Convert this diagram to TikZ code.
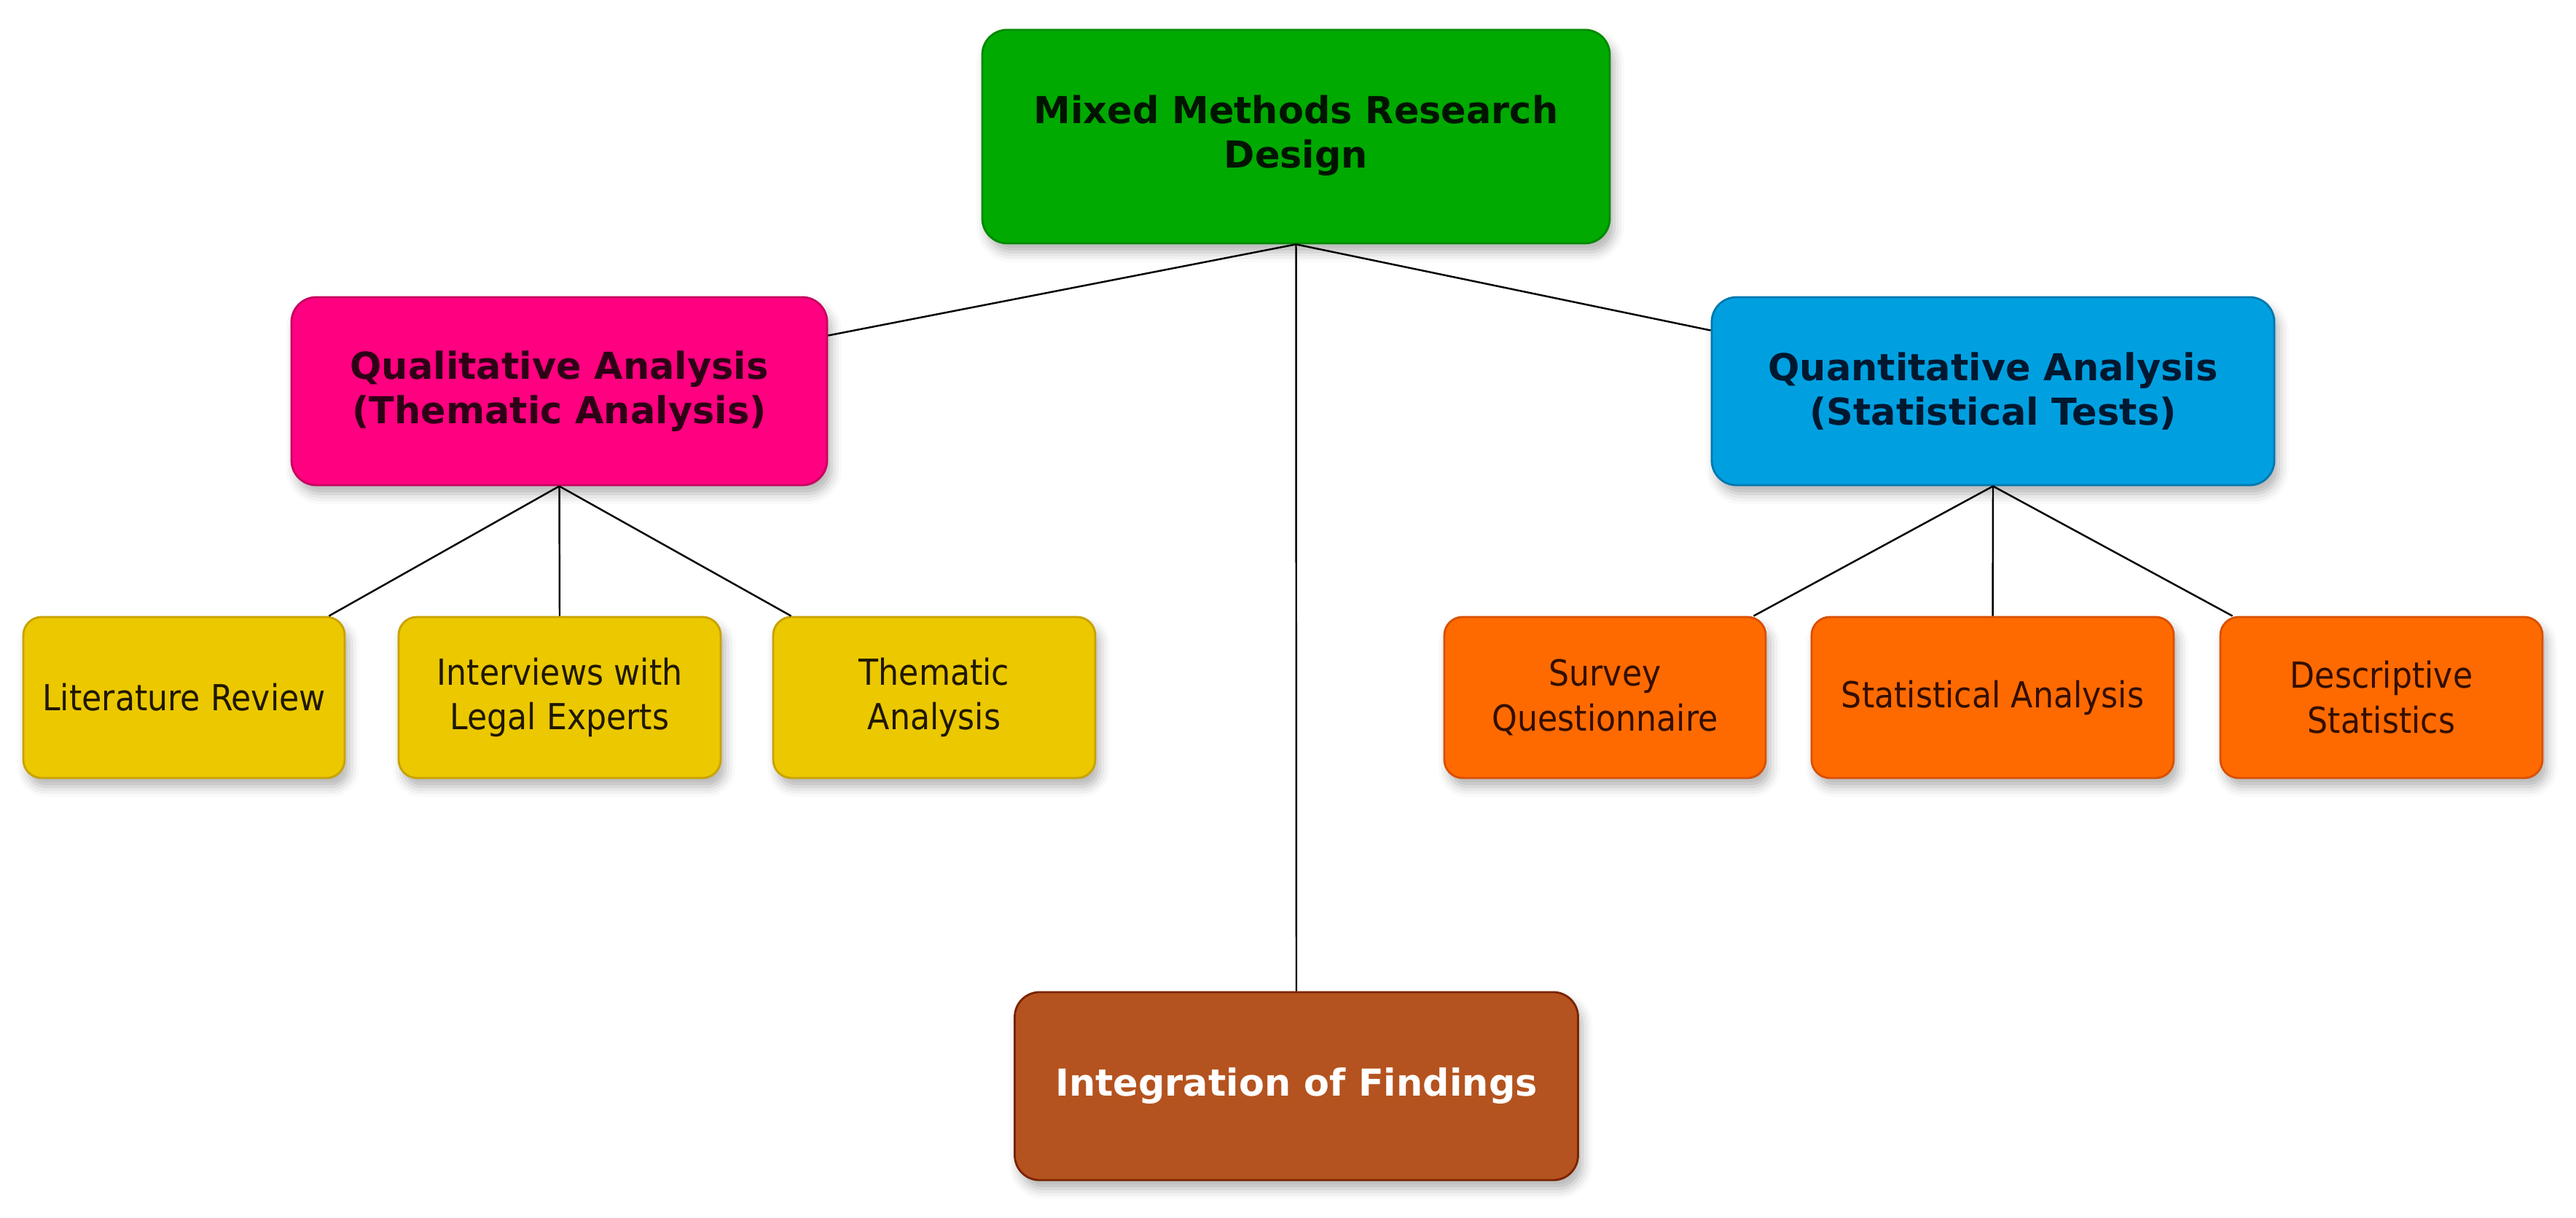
\documentclass[tikz,border=0pt]{standalone}
\usepackage{fontspec}
\setmainfont{DejaVu Sans}
\newfontfamily\condfont{DejaVu Sans Condensed}
\usetikzlibrary{shadows.blur}
\definecolor{gfill}{HTML}{00AA00}\definecolor{gdraw}{HTML}{008A00}
\definecolor{pfill}{HTML}{FF0080}\definecolor{pdraw}{HTML}{C8005F}
\definecolor{bfill}{HTML}{00A0E0}\definecolor{bdraw}{HTML}{0078B0}
\definecolor{yfill}{HTML}{EBC800}\definecolor{ydraw}{HTML}{C8A200}
\definecolor{ofill}{HTML}{FF6A00}\definecolor{odraw}{HTML}{D95000}
\definecolor{brfill}{HTML}{B4531F}\definecolor{brdraw}{HTML}{7A2300}
\definecolor{ptext}{HTML}{2E0016}\definecolor{btext}{HTML}{001830}
\definecolor{otext}{HTML}{330F00}\definecolor{ytext}{HTML}{201800}
\definecolor{gtext}{HTML}{001400}
\tikzset{
  box/.style={draw, line width=0.8pt, inner sep=0pt, align=center,
    blur shadow={shadow xshift=0.06cm, shadow yshift=-0.12cm, shadow blur radius=0.14cm, shadow opacity=30}},
  headbox/.style={box, rounded corners=0.34cm, font=\bfseries\fontsize{14.5}{17.4}\selectfont},
  leafbox/.style={box, rounded corners=0.25cm, minimum height=2.21cm, font=\condfont\fontsize{14}{17.6}\selectfont},
  edge/.style={draw=black, line width=0.7pt}
}
\begin{document}
\begin{tikzpicture}
\useasboundingbox (0,0) rectangle (35.35,16.72);
\node[headbox, fill=gfill, draw=gdraw, text=gtext, minimum width=8.61cm, minimum height=2.93cm] (green) at (17.785,14.845) {\raisebox{-0.06cm}{\begin{tabular}{@{}c@{}}Mixed Methods Research\\Design\end{tabular}}};
\node[headbox, fill=pfill, draw=pdraw, text=ptext, minimum width=7.35cm, minimum height=2.58cm] (pink) at (7.675,11.35) {Qualitative Analysis\\(Thematic Analysis)};
\node[headbox, fill=bfill, draw=bdraw, text=btext, minimum width=7.72cm, minimum height=2.58cm] (blue) at (27.35,11.35) {Quantitative Analysis\\(Statistical Tests)};
\node[headbox, fill=brfill, draw=brdraw, text=white, minimum width=7.73cm, minimum height=2.58cm] (brown) at (17.79,1.81) {Integration of Findings};
\node[leafbox, fill=yfill, draw=ydraw, text=ytext, minimum width=4.41cm] (y1) at (2.525,7.145) {Literature Review};
\node[leafbox, fill=yfill, draw=ydraw, text=ytext, minimum width=4.42cm] (y2) at (7.68,7.145) {Interviews with\\Legal Experts};
\node[leafbox, fill=yfill, draw=ydraw, text=ytext, minimum width=4.42cm] (y3) at (12.82,7.145) {Thematic\\Analysis};
\node[leafbox, fill=ofill, draw=odraw, text=otext, minimum width=4.41cm] (o1) at (22.025,7.145) {Survey\\Questionnaire};
\node[leafbox, fill=ofill, draw=odraw, text=otext, minimum width=4.97cm] (o2) at (27.345,7.145) {Statistical Analysis};
\node[leafbox, fill=ofill, draw=odraw, text=otext, minimum width=4.42cm] (o3) at (32.68,7.145) {Descriptive\\Statistics};
\draw[edge] (green.south) -- ([yshift=-0.54cm]pink.north east);
\draw[edge] (green.south) -- ([yshift=-0.47cm]blue.north west);
\draw[edge] (green.south) -- (brown.north);
\draw[edge] (pink.south) -- ([xshift=-0.23cm]y1.north east);
\draw[edge] (pink.south) -- (y2.north);
\draw[edge] (pink.south) -- ([xshift=0.26cm]y3.north west);
\draw[edge] (blue.south) -- ([xshift=-0.18cm]o1.north east);
\draw[edge] (blue.south) -- (o2.north);
\draw[edge] (blue.south) -- ([xshift=0.18cm]o3.north west);
\end{tikzpicture}
\end{document}
